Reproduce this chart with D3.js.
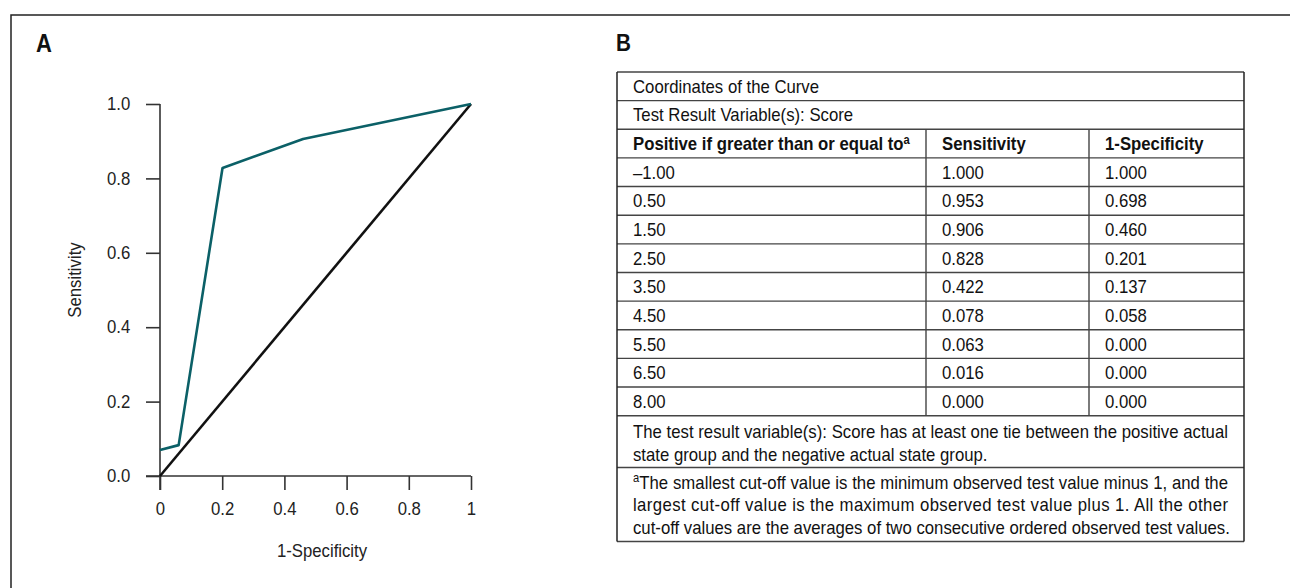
<!DOCTYPE html>
<html>
<head>
<meta charset="utf-8">
<script src="https://cdn.jsdelivr.net/npm/d3@7"></script>
<style>
  html, body { margin: 0; padding: 0; background: #fff; }
  svg { display: block; font-family: "Liberation Sans", Arial, sans-serif; }
</style>
</head>
<body>
<svg id="chart" width="1290" height="588"></svg>
<script>
// ---------- Data ----------
// ROC curve as drawn in panel A
const curveFPR = [0, 0.06, 0.201, 0.46, 1.0];
const curveSens = [0.07, 0.083, 0.828, 0.906, 1.0];
// reference diagonal
const diagFPR = [0, 1];
const diagSens = [0, 1];
// axis ticks
const xTicks = [0, 0.2, 0.4, 0.6, 0.8, 1];
const xTickLabels = ["0", "0.2", "0.4", "0.6", "0.8", "1"];
const yTicks = [0, 0.2, 0.4, 0.6, 0.8, 1.0];
const yTickLabels = ["0.0", "0.2", "0.4", "0.6", "0.8", "1.0"];

// Table in panel B
const tableTitle = "Coordinates of the Curve";
const tableSubtitle = "Test Result Variable(s): Score";
const columnHeaders = ["Positive if greater than or equal to", "Sensitivity", "1-Specificity"];
const cutoffs = ["\u20131.00", "0.50", "1.50", "2.50", "3.50", "4.50", "5.50", "6.50", "8.00"];
const sensitivity = ["1.000", "0.953", "0.906", "0.828", "0.422", "0.078", "0.063", "0.016", "0.000"];
const oneMinusSpec = ["1.000", "0.698", "0.460", "0.201", "0.137", "0.058", "0.000", "0.000", "0.000"];
const note1Lines = [
  "The test result variable(s): Score has at least one tie between the positive actual",
  "state group and the negative actual state group."
];
const note2Lines = [
  "The smallest cut-off value is the minimum observed test value minus 1, and the",
  "largest cut-off value is the maximum observed test value plus 1. All the other",
  "cut-off values are the averages of two consecutive ordered observed test values."
];

// ---------- Drawing ----------
const svg = d3.select("#chart");
const FONT = 18;
const SX = 0.93; // horizontal condensing of the original typeface

function txt(parent, xp, yp, s, opts = {}) {
  const t = parent.append("text")
    .attr("transform", `translate(${xp},${yp})` + (opts.rotate ? ` rotate(${opts.rotate})` : "") + ` scale(${opts.sx || SX},1)`)
    .attr("font-size", opts.size || FONT)
    .attr("fill", opts.fill || "#111")
    .attr("font-weight", opts.bold ? "bold" : "normal");
  if (opts.anchor) t.attr("text-anchor", opts.anchor);
  if (opts.dy) t.attr("dy", opts.dy);
  if (s != null) t.text(s);
  return t;
}

// outer frame
svg.append("rect")
  .attr("x", 11).attr("y", 15).attr("width", 1400).attr("height", 700)
  .attr("fill", "none").attr("stroke", "#222").attr("stroke-width", 1.5);

// panel letters
txt(svg, 36, 52, "A", { bold: true, size: 25, sx: 0.88 });
txt(svg, 616, 51, "B", { bold: true, size: 23, sx: 0.9 });

// ---- Panel A ----
const x = d3.scaleLinear().domain([0, 1]).range([160, 471]);
const y = d3.scaleLinear().domain([0, 1]).range([476, 104]);
const gA = svg.append("g");
const axisColor = "#333";

// x axis
const xAxis = d3.axisBottom(x).tickValues(xTicks)
  .tickFormat((d, i) => xTickLabels[i]).tickSize(14).tickSizeOuter(0).tickPadding(12);
const gx = gA.append("g").attr("transform", `translate(0,${y(0)})`).call(xAxis);
gx.select(".domain").attr("d", `M${x(0) - 14},0H${x(1)}`);
// y axis
const yAxis = d3.axisLeft(y).tickValues(yTicks)
  .tickFormat((d, i) => yTickLabels[i]).tickSize(14).tickSizeOuter(0).tickPadding(18);
const gy = gA.append("g").attr("transform", `translate(${x(0)},0)`).call(yAxis);
gy.select(".domain").attr("d", `M0,${y(1)}V${y(0) + 14}`);

[gx, gy].forEach(g => {
  g.attr("font-size", FONT).attr("font-family", "Liberation Sans, Arial, sans-serif");
  g.selectAll(".domain, .tick line").attr("stroke", axisColor).attr("stroke-width", 1.6);
  g.selectAll(".tick text").attr("font-size", FONT).attr("fill", "#222")
    .attr("transform", `scale(${SX},1)`);
});

const line = d3.line().x(d => x(d[0])).y(d => y(d[1]));
gA.append("path")
  .datum(diagFPR.map((v, i) => [v, diagSens[i]]))
  .attr("d", line).attr("fill", "none").attr("stroke", "#111").attr("stroke-width", 2.6);
gA.append("path")
  .datum(curveFPR.map((v, i) => [v, curveSens[i]]))
  .attr("d", line).attr("fill", "none").attr("stroke", "#0b6067").attr("stroke-width", 2.6)
  .attr("stroke-linejoin", "round");

txt(gA, 322, 557, "1-Specificity", { anchor: "middle", fill: "#222" });
txt(gA, 81, 280, "Sensitivity", { anchor: "middle", fill: "#222", rotate: -90 });

// ---- Panel B (table) ----
const tL = 617, tR = 1244;
const colX = [617, 926, 1089];
const rowTop = 72, rowH = 28.64;
const nRows = 3 + cutoffs.length; // title, subtitle, header, data
const rowY = d3.range(nRows + 1).map(i => rowTop + i * rowH);
const note1Bottom = 467.5, note2Bottom = 541.5;
const gB = svg.append("g");
const lineColor = "#444";

function cellText(xp, yc, s, bold) {
  return txt(gB, xp, yc, s, { bold: bold, dy: "0.36em" });
}
cellText(tL + 16, (rowY[0] + rowY[1]) / 2, tableTitle);
cellText(tL + 16, (rowY[1] + rowY[2]) / 2, tableSubtitle);
const hdrY = (rowY[2] + rowY[3]) / 2;
columnHeaders.forEach((h, i) => {
  const t = cellText(colX[i] + 16, hdrY, h, true);
  if (i === 0) t.append("tspan").attr("baseline-shift", "super").attr("font-size", 12).text("a");
});
const dataCols = [cutoffs, sensitivity, oneMinusSpec];
cutoffs.forEach((c, r) => {
  const yc = (rowY[3 + r] + rowY[4 + r]) / 2;
  dataCols.forEach((col, ci) => cellText(colX[ci] + 16, yc, col[r]));
});

// notes (justified lines use textLength)
const textW = 595 / SX;
note1Lines.forEach((s, i) => {
  const el = txt(gB, tL + 16, 438 + i * 22.5, s);
  if (i < note1Lines.length - 1) el.attr("textLength", textW).attr("lengthAdjust", "spacing");
});
note2Lines.forEach((s, i) => {
  const el = txt(gB, tL + 16, 488.5 + i * 22.8, null);
  if (i === 0) {
    el.append("tspan").attr("baseline-shift", "super").attr("font-size", 12).text("a");
    el.append("tspan").text(s);
  } else {
    el.text(s);
  }
  if (i < note2Lines.length - 1) el.attr("textLength", textW).attr("lengthAdjust", "spacing");
});

// grid lines
const hLines = rowY.concat([note1Bottom, note2Bottom]);
gB.selectAll("line.h").data(hLines).enter().append("line")
  .attr("x1", tL).attr("x2", tR).attr("y1", d => d).attr("y2", d => d)
  .attr("stroke", lineColor).attr("stroke-width", 1.4);
[tL, tR].forEach(xv => gB.append("line").attr("x1", xv).attr("x2", xv)
  .attr("y1", rowTop).attr("y2", note2Bottom).attr("stroke", "#222").attr("stroke-width", 1.5));
[colX[1], colX[2]].forEach(xv => gB.append("line").attr("x1", xv).attr("x2", xv)
  .attr("y1", rowY[2]).attr("y2", rowY[nRows]).attr("stroke", lineColor).attr("stroke-width", 1.4));
</script>
</body>
</html>
